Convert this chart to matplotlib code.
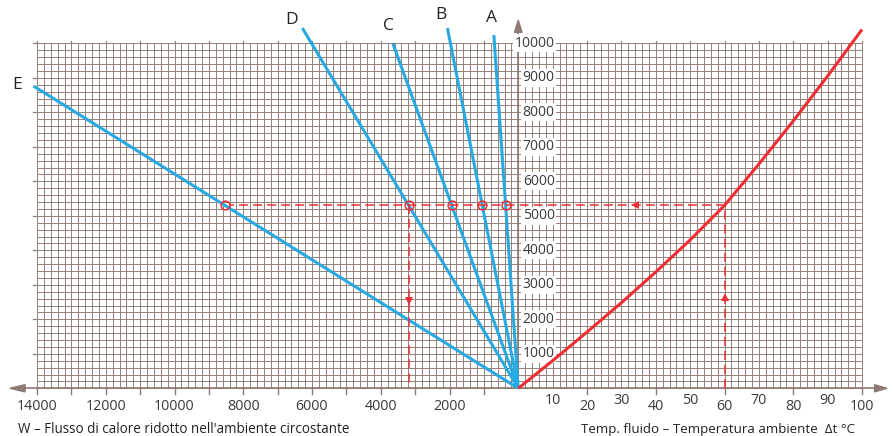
import matplotlib
matplotlib.use("Agg")
import matplotlib.pyplot as plt
import numpy as np
from matplotlib.patches import Polygon

plt.rcParams['font.family'] = ['Open Sans', 'DejaVu Sans']
plt.rcParams['lines.scale_dashes'] = False

# ---------------- data ----------------
line_labels = ["A", "B", "C", "D", "E"]
line_end_w = [710, 2060, 3650, 6280, 14100]       # W at the upper end of each line
line_end_y = [10240, 10440, 10000, 10440, 8760]   # ordinate at the upper end
label_w = [765, 2250, 3790, 6590, 14580]
label_y = [10730, 10820, 10500, 10680, 8790]

curve_dt = [0, 10, 20, 30, 40, 50, 60, 70, 80, 90, 100]
curve_w = [0, 800, 1630, 2480, 3370, 4300, 5300, 6500, 7750, 9050, 10400]

ref_dt = 60
ref_w = 5300
selected_line = "D"
arrow_h_dt = 34
arrow_up_w = 2650
arrow_down_w = 2520

w_tick_labels = [14000, 12000, 10000, 8000, 6000, 4000, 2000]
dt_tick_labels = [10, 20, 30, 40, 50, 60, 70, 80, 90, 100]
y_tick_labels = [1000, 2000, 3000, 4000, 5000, 6000, 7000, 8000, 9000, 10000]

left_title = "W – Flusso di calore ridotto nell'ambiente circostante"
right_title = "Temp. fluido – Temperatura ambiente  Δt °C"

# ---------------- style ----------------
BLUE = '#27a9e1'
RED = '#ee2d35'
GRID = '#958079'
AXC = '#8c7a74'
TXT = '#3a3a3a'

W_MAX = 14000
DT_MAX = 100
Y_MAX = 10000

def wx(w):
    # left half: W mapped to negative abscissa (100 W per unit)
    return -np.asarray(w, dtype=float) / 100.0

fig = plt.figure(figsize=(8.93, 4.36), dpi=100)
ax = fig.add_axes([0, 0, 1, 1])
xmin = -140 - 37 / 3.4375
ax.set_xlim(xmin, xmin + 893 / 3.4375)
ymax = 388.3 / 0.0345
ax.set_ylim(ymax - 436 / 0.0345, ymax)
ax.axis('off')

# grid
xs = np.arange(-W_MAX / 100, DT_MAX + 0.1, 2)
ax.vlines(xs, 0, Y_MAX, color=GRID, lw=0.7, zorder=1)
ys = np.arange(0, Y_MAX + 1, 200)
ax.hlines(ys, -W_MAX / 100, DT_MAX, color=GRID, lw=0.7, zorder=1)

# small outer ticks
for yv in range(1000, Y_MAX + 1, 1000):
    ax.plot([-W_MAX / 100 - 1.2, -W_MAX / 100], [yv, yv], color=GRID, lw=0.9, zorder=1)
for xv in np.arange(-W_MAX / 100, DT_MAX + 0.1, 10):
    ax.plot([xv, xv], [Y_MAX, Y_MAX + 70], color=GRID, lw=0.9, zorder=1)
for xv in np.arange(-W_MAX / 100, 0, 10):
    ax.plot([xv, xv], [0, -160], color=AXC, lw=1.0, zorder=2)
for xv in np.arange(20, DT_MAX + 0.1, 20):
    ax.plot([xv, xv], [0, -160], color=AXC, lw=1.0, zorder=2)

# axes with arrows
x_left_tip = (10 - 518.3) / 3.4375
x_right_tip = (887 - 518.3) / 3.4375
ax.plot([x_left_tip + 2, x_right_tip - 2], [0, 0], color=AXC, lw=1.2, zorder=3)
ax.add_patch(Polygon([[x_left_tip, 0], [x_left_tip + 4.4, 105], [x_left_tip + 4.4, -105]],
                     closed=True, color=AXC, zorder=3))
ax.add_patch(Polygon([[x_right_tip, 0], [x_right_tip - 3.6, 105], [x_right_tip - 3.6, -105]],
                     closed=True, color=AXC, zorder=3))
y_tip = (388.3 - 20) / 0.0345
ax.plot([0, 0], [0, y_tip - 200], color=AXC, lw=1.2, zorder=3)
ax.add_patch(Polygon([[0, y_tip], [-1.1, y_tip - 360], [1.1, y_tip - 360]],
                     closed=True, color=AXC, zorder=3))

# y tick labels (on the central axis)
for yv in y_tick_labels:
    ax.text(10.6, yv, f"{yv}", ha='right', va='center', fontsize=10, color=TXT, zorder=4,
            bbox=dict(boxstyle='square,pad=0.12', fc='white', ec='none'))

# x tick labels
for wv in w_tick_labels:
    ax.text(wx(wv), -520, f"{wv}", ha='center', va='center', fontsize=10.3, color=TXT)
for i, dv in enumerate(dt_tick_labels):
    yy = -360 if i % 2 == 0 else -520
    ax.text(dv, yy, f"{dv}", ha='center', va='center', fontsize=10.3, color=TXT)

ax.text((18 - 518.3) / 3.4375, -1180, left_title, ha='left', va='center', fontsize=9.75, color='#222222')
ax.text((855 - 518.3) / 3.4375, -1180, right_title, ha='right', va='center', fontsize=9.6, color='#222222')

# blue lines
for lab, we, ye, lw_, ly in zip(line_labels, line_end_w, line_end_y, label_w, label_y):
    ax.plot([0, wx(we)], [0, ye], color=BLUE, lw=2.2, solid_capstyle='butt', zorder=5)
    ax.text(wx(lw_), ly, lab, ha='center', va='center', fontsize=12.5, color='#222222')

# red curve
ax.plot(curve_dt, curve_w, color=RED, lw=2.2, solid_capstyle='butt', zorder=6)

# intersections of the reference power with the lines
cross_w = [we * ref_w / ye for we, ye in zip(line_end_w, line_end_y)]
sel_w = cross_w[line_labels.index(selected_line)]
far_w = max(cross_w)

dash = dict(color=RED, lw=1.1, dashes=(6.5, 3.6), zorder=7)
ax.plot([ref_dt, ref_dt], [0, ref_w], **dash)
ax.plot([ref_dt, wx(far_w) + 1.5], [ref_w, ref_w], **dash)
ax.plot([wx(sel_w), wx(sel_w)], [ref_w, 0], **dash)

ax.plot([arrow_h_dt], [ref_w], marker='<', ms=6, color=RED, mew=0, zorder=8)
ax.plot([ref_dt], [arrow_up_w], marker='^', ms=6, color=RED, mew=0, zorder=8)
ax.plot([wx(sel_w)], [arrow_down_w], marker='v', ms=6, color=RED, mew=0, zorder=8)

ax.plot(wx(cross_w), [ref_w] * len(cross_w), linestyle='none', marker='o', ms=6.3,
        mfc='none', mec=RED, mew=1.1, zorder=9)

fig.savefig("out.png", dpi=100)
